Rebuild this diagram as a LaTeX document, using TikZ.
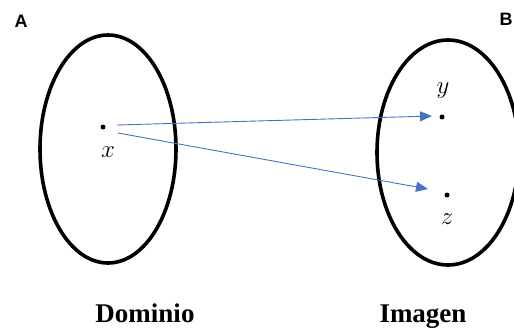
\documentclass[tikz,border=0pt]{standalone}
\usepackage{fontspec}
\setmainfont{Liberation Serif}
\newfontfamily\labsans{Liberation Sans}
\usetikzlibrary{arrows.meta}
\definecolor{arrblue}{HTML}{4472C4}
\begin{document}
\begin{tikzpicture}[x=1pt,y=-1pt,
  setellipse/.style={draw=black,line width=3.6pt},
  ptdot/.style={circle,fill=black,inner sep=0pt,minimum size=5pt},
  varlab/.style={inner sep=0pt,font=\fontsize{25}{25}\selectfont},
  setlab/.style={inner sep=0pt,font=\labsans\bfseries\fontsize{18}{18}\selectfont},
  caplab/.style={inner sep=0pt,anchor=base,font=\bfseries\fontsize{27}{27}\selectfont},
  arr/.style={draw=arrblue,line width=0.9pt,-{Triangle[length=12pt,width=10pt]}}]
\useasboundingbox (0,0) rectangle (514,329);
\draw[setellipse] (108,149) ellipse [x radius=68, y radius=114];
\draw[setellipse] (448,152.5) ellipse [x radius=71, y radius=112.5];
\node[setlab] (A) at (21,21) {A};
\node[setlab] (B) at (506,19) {B};
\node[ptdot] (xd) at (103,127) {};
\node[ptdot] (yd) at (442,117) {};
\node[ptdot] (zd) at (447,195) {};
\node[varlab] (xl) at (108,152) {$x$};
\node[varlab] (yl) at (443,91) {$y$};
\node[varlab] (zl) at (447,219) {$z$};
\draw[arr] ([xshift=14pt,yshift=2pt]xd.center) -- ([xshift=-10pt,yshift=1pt]yd.center);
\draw[arr] ([xshift=15pt,yshift=-6pt]xd.center) -- ([xshift=-19pt,yshift=6pt]zd.center);
\node[caplab] (dom) at (145,322) {Dominio};
\node[caplab] (img) at (423,322) {Imagen};
\end{tikzpicture}
\end{document}
